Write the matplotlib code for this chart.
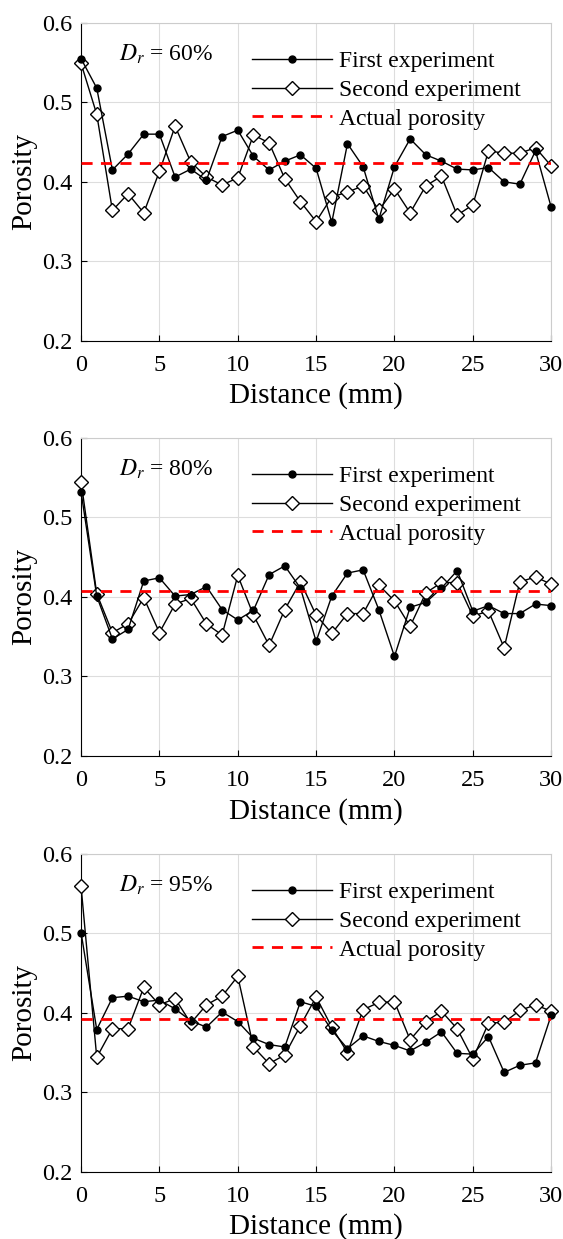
import matplotlib.pyplot as plt
import numpy as np

plt.rcParams['font.family'] = ['Liberation Serif', 'DejaVu Serif']
plt.rcParams['mathtext.fontset'] = 'stix'

distance = np.arange(0, 31)

first_60 = [0.555, 0.518, 0.415, 0.435, 0.460, 0.460, 0.406, 0.416, 0.402, 0.457,
            0.465, 0.432, 0.415, 0.426, 0.434, 0.417, 0.349, 0.448, 0.419, 0.353,
            0.419, 0.454, 0.434, 0.426, 0.416, 0.415, 0.418, 0.400, 0.397, 0.439, 0.368]
second_60 = [0.549, 0.485, 0.364, 0.385, 0.361, 0.413, 0.470, 0.425, 0.406, 0.396,
             0.405, 0.459, 0.449, 0.404, 0.375, 0.350, 0.381, 0.387, 0.395, 0.364,
             0.391, 0.361, 0.395, 0.407, 0.358, 0.371, 0.439, 0.436, 0.436, 0.443, 0.420]
actual_60 = 0.424

first_80 = [0.532, 0.401, 0.347, 0.359, 0.420, 0.424, 0.401, 0.403, 0.413, 0.384,
            0.371, 0.383, 0.428, 0.439, 0.411, 0.344, 0.401, 0.430, 0.434, 0.384,
            0.325, 0.387, 0.393, 0.411, 0.433, 0.382, 0.389, 0.379, 0.379, 0.391, 0.389]
second_80 = [0.545, 0.404, 0.355, 0.366, 0.399, 0.355, 0.391, 0.398, 0.366, 0.352,
             0.427, 0.377, 0.339, 0.384, 0.419, 0.377, 0.354, 0.379, 0.379, 0.415,
             0.395, 0.363, 0.405, 0.418, 0.418, 0.376, 0.382, 0.336, 0.419, 0.425, 0.416]
actual_80 = 0.407

first_95 = [0.501, 0.379, 0.419, 0.421, 0.414, 0.416, 0.405, 0.390, 0.382, 0.401,
            0.389, 0.368, 0.360, 0.357, 0.414, 0.408, 0.378, 0.355, 0.371, 0.364,
            0.359, 0.352, 0.363, 0.376, 0.349, 0.348, 0.370, 0.325, 0.334, 0.337, 0.397]
second_95 = [0.559, 0.344, 0.380, 0.380, 0.432, 0.410, 0.418, 0.387, 0.410, 0.421,
             0.446, 0.357, 0.336, 0.347, 0.384, 0.420, 0.382, 0.350, 0.404, 0.413,
             0.414, 0.366, 0.389, 0.402, 0.380, 0.342, 0.387, 0.388, 0.403, 0.410, 0.402]
actual_95 = 0.392

panels = [
    ('60%', first_60, second_60, actual_60),
    ('80%', first_80, second_80, actual_80),
    ('95%', first_95, second_95, actual_95),
]
bottoms = [0.725, 0.390, 0.0543]

fig = plt.figure(figsize=(5.63, 12.39), dpi=100)

for (dr, first, second, actual), b in zip(panels, bottoms):
    ax = fig.add_axes([0.144, b, 0.835, 0.2565])
    ax.plot(distance, first, 'k-', marker='o', markersize=5, lw=1,
            clip_on=False, zorder=4, label='First experiment')
    ax.plot(distance, second, 'k-', marker='D', markersize=7.5, lw=1,
            markerfacecolor='white', markeredgewidth=1, clip_on=False, zorder=3,
            label='Second experiment')
    ax.plot([0, 30], [actual, actual], 'r--', lw=2, dashes=(4, 3), zorder=5,
            label='Actual porosity')
    ax.set_xlim(0, 30)
    ax.set_ylim(0.2, 0.6)
    ax.set_xticks([0, 5, 10, 15, 20, 25, 30])
    ax.set_yticks([0.2, 0.3, 0.4, 0.5, 0.6])
    ax.grid(True, color='#dddddd', lw=0.8)
    ax.set_axisbelow(True)
    ax.tick_params(direction='in', labelsize=17.5, length=4)
    ax.tick_params(axis='x', pad=10)
    ax.tick_params(axis='y', pad=6)
    for s in ['top', 'right']:
        ax.spines[s].set_color('#cccccc')
    ax.set_xlabel('Distance (mm)', fontsize=21, labelpad=5)
    ax.set_ylabel('Porosity', fontsize=21, labelpad=4)
    ax.text(2.4, 0.56, r'$D_r$' + ' = ' + dr, fontsize=17, ha='left', va='center')
    ax.legend(loc='upper right', bbox_to_anchor=(0.966, 0.957), frameon=False,
              fontsize=17, handlelength=3.4, labelspacing=0.3, handletextpad=0.3,
              borderaxespad=0.2)

fig.savefig('out.png', dpi=100)
